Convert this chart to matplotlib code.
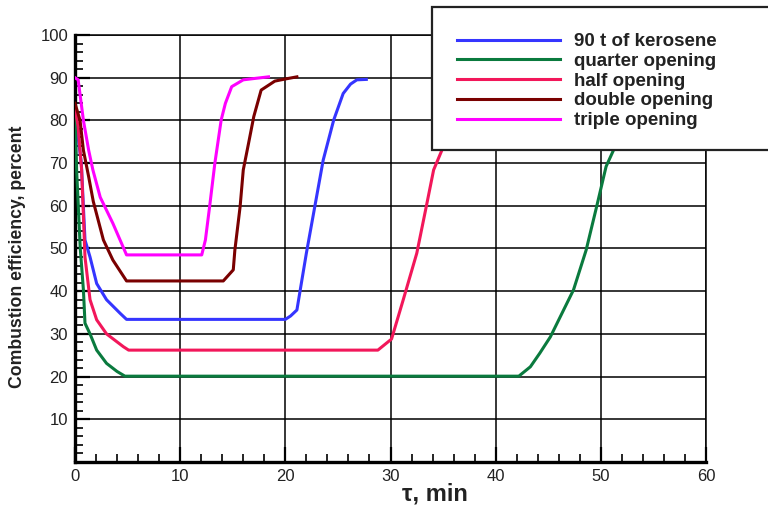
import matplotlib
matplotlib.use("Agg")
import matplotlib.pyplot as plt
from matplotlib.patches import Rectangle
from matplotlib.ticker import MultipleLocator

plt.rcParams['font.family'] = ['Liberation Sans', 'DejaVu Sans']

# efficiency curves, time in minutes vs efficiency in percent
kero_t = [0, 0.3, 0.6, 0.95, 1.43, 2.06, 3.0, 4.3, 4.9, 20.0, 20.5, 21.1, 22.0,
          22.8, 23.6, 24.6, 25.5, 26.2, 26.8, 27.7]
kero_e = [81, 76, 70, 52, 48, 41.8, 38, 34.8, 33.4, 33.4, 34.2, 35.6, 48.9,
          59.8, 70.7, 80.1, 86.3, 88.5, 89.5, 89.6]

quarter_t = [0, 0.16, 0.5, 0.8, 0.95, 1.43, 2.06, 3.0, 4.0, 4.75, 42.2, 43.3,
             44.2, 45.2, 47.4, 48.6, 49.6, 50.5, 51.2, 52.5, 53.5, 54.5]
quarter_e = [81, 68, 50, 40.3, 32.5, 30, 26.2, 23.1, 21.2, 20.1, 20.1, 22.3,
             25.5, 29.3, 40.3, 49.6, 59.8, 69.2, 73, 80, 86, 89.5]

half_t = [0, 0.3, 0.63, 0.95, 1.43, 2.06, 3.0, 4.6, 5.1, 28.8, 30.1, 31.2,
          32.5, 33.4, 34.1, 34.9, 36.0, 37.0, 38.0]
half_e = [83, 78.5, 68.4, 48, 38, 33.3, 30, 27, 26.2, 26.2, 28.8, 37.9,
          48.9, 59.8, 68.4, 73.1, 82, 88, 89.6]

double_t = [0, 0.48, 0.8, 1.3, 1.74, 2.7, 3.6, 4.9, 14.1, 15.05, 15.2, 15.7,
            16.0, 16.5, 17.0, 17.7, 19.0, 20.0, 21.1]
double_e = [84, 80, 73, 66.8, 61, 52, 47.3, 42.4, 42.4, 45, 49.6, 59.8,
            68.4, 74.6, 80.9, 87.1, 89.2, 89.7, 90.2]

triple_t = [0, 0.3, 0.8, 1.3, 1.7, 2.4, 3.6, 4.9, 12.05, 12.4, 12.8, 13.3,
            13.9, 14.3, 14.9, 16.0, 17.0, 18.4]
triple_e = [90, 89.5, 80, 73, 68.4, 62, 55.9, 48.5, 48.5, 52, 59.8, 70,
            80.1, 84, 87.9, 89.5, 89.8, 90.2]

labels = ['90 t of kerosene', 'quarter opening', 'half opening',
          'double opening', 'triple opening']
colors = ['#3535ff', '#0a7a3e', '#f2175a', '#7a0000', '#ff00ff']

fig = plt.figure(figsize=(7.68, 5.08), dpi=100)
ax = fig.add_axes([75/768, 1 - 462/508, 631/768, 427/508])

series = [(kero_t, kero_e), (quarter_t, quarter_e), (half_t, half_e),
          (double_t, double_e), (triple_t, triple_e)]
lines = []
for (t, e), c, lab in zip(series, colors, labels):
    ln, = ax.plot(t, e, color=c, lw=2.2, label=lab, zorder=3)
    lines.append(ln)

ax.set_xlim(0, 60)
ax.set_ylim(0, 100)
ax.xaxis.set_major_locator(MultipleLocator(10))
ax.xaxis.set_minor_locator(MultipleLocator(2))
ax.yaxis.set_minor_locator(MultipleLocator(2))
ax.set_yticks(range(10, 101, 10))
ax.grid(True, which='major', color='black', lw=1.1, zorder=1)
ax.set_axisbelow(True)

ax.tick_params(which='major', direction='in', length=11, width=1.6,
               labelsize=12, labelcolor='#222222', pad=5)
ax.tick_params(which='minor', direction='in', length=6, width=1.2)
for s in ['left', 'bottom']:
    ax.spines[s].set_linewidth(2.4)
for s in ['top', 'right']:
    ax.spines[s].set_linewidth(1.1)

ax.set_ylabel('Combustion efficiency, percent', fontsize=12.7,
              fontweight='bold', color='#222222')
ax.yaxis.set_label_coords(-0.078, 0.48)
ax.set_xlabel('τ, min', fontsize=17, fontweight='bold', color='#222222')
ax.xaxis.set_label_coords(0.57, -0.047)

# legend box runs off the right edge of the figure
box = Rectangle((432/768, 1 - 150/508), 0.5, 143/508, transform=fig.transFigure,
                facecolor='white', edgecolor='#222222', lw=1.6, zorder=4)
fig.add_artist(box)
leg = fig.legend(handles=lines, loc='upper left',
                 bbox_to_anchor=(457/768, 1 - 33/508), frameon=False,
                 handlelength=5.5, handletextpad=0.75, labelspacing=0.14,
                 borderpad=0, borderaxespad=0,
                 prop={'weight': 'bold', 'size': 13.5})
leg.set_zorder(5)
for txt in leg.get_texts():
    txt.set_color('#222222')

fig.savefig('out.png', dpi=100)
